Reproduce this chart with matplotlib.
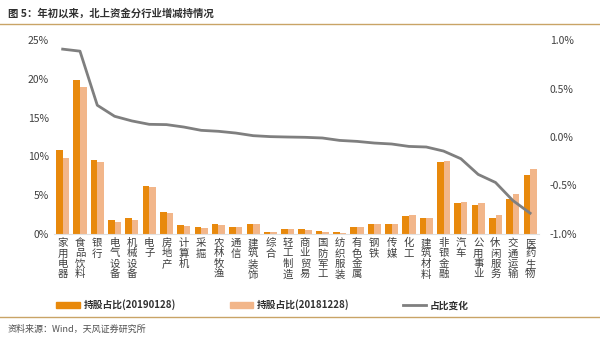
import matplotlib
matplotlib.use("Agg")
import matplotlib.pyplot as plt
import numpy as np
from matplotlib.patches import Patch
from matplotlib.lines import Line2D
from matplotlib.ticker import FuncFormatter

plt.rcParams['font.family'] = ['Noto Sans CJK SC', 'DejaVu Sans']

industries = ['家用电器', '食品饮料', '银行', '电气设备', '机械设备', '电子', '房地产',
              '计算机', '采掘', '农林牧渔', '通信', '建筑装饰', '综合', '轻工制造',
              '商业贸易', '国防军工', '纺织服装', '有色金属', '钢铁', '传媒', '化工',
              '建筑材料', '非银金融', '汽车', '公用事业', '休闲服务', '交通运输', '医药生物']
share_0128 = [10.8, 19.9, 9.6, 1.8, 2.0, 6.15, 2.8, 1.2, 0.85, 1.25, 0.9, 1.3, 0.3, 0.6,
              0.6, 0.35, 0.2, 0.85, 1.3, 1.3, 2.35, 2.05, 9.3, 3.95, 3.7, 2.0, 4.5, 7.6]
share_1228 = [9.85, 19.0, 9.3, 1.55, 1.8, 6.0, 2.65, 1.05, 0.78, 1.2, 0.85, 1.3, 0.25, 0.58,
              0.55, 0.3, 0.18, 0.85, 1.3, 1.3, 2.4, 2.1, 9.4, 4.15, 4.05, 2.5, 5.2, 8.4]
change = [0.907, 0.886, 0.328, 0.214, 0.166, 0.131, 0.128, 0.103, 0.069, 0.059, 0.041,
          0.014, 0.004, 0.0, -0.003, -0.01, -0.035, -0.045, -0.062, -0.072, -0.097,
          -0.103, -0.145, -0.224, -0.386, -0.469, -0.655, -0.786]

dark = '#E8890C'
light = '#F2B68A'
gray = '#7F7F7F'
txt = '#404040'

fig = plt.figure(figsize=(6, 3.4), dpi=100)
ax = fig.add_axes([0.09, 0.312, 0.808, 0.57])
x = np.arange(len(industries))
w = 0.38
ax.bar(x - w / 2, share_0128, w, color=dark)
ax.bar(x + w / 2, share_1228, w, color=light)
ax.set_xlim(-0.5, len(industries) - 0.5)
ax.set_ylim(0, 25)
ax.set_yticks(np.arange(0, 26, 5))
ax.yaxis.set_major_formatter(FuncFormatter(lambda v, p: f'{v:.0f}%'))
ax.set_xticks(x)
ax.set_xticklabels(['\n'.join(s) for s in industries], fontsize=7, color=txt,
                   linespacing=1.05, va='top', fontweight='medium')
ax.tick_params(axis='both', length=0, colors=txt, labelsize=7.5)
ax.tick_params(axis='x', pad=3)
for s in ['top', 'right', 'left']:
    ax.spines[s].set_visible(False)
ax.spines['bottom'].set_color('#E0E0E0')

ax2 = ax.twinx()
ax2.plot(x, change, color=gray, lw=2)
ax2.set_ylim(-1.0, 1.0)
ax2.set_yticks([-1.0, -0.5, 0.0, 0.5, 1.0])
ax2.yaxis.set_major_formatter(FuncFormatter(lambda v, p: f'{v:.1f}%'))
ax2.tick_params(axis='y', length=0, colors=txt, labelsize=7.5, pad=8)
for s in ax2.spines.values():
    s.set_visible(False)

handles = [Patch(color=dark), Patch(color=light), Line2D([0], [0], color=gray, lw=2)]
labels = ['持股占比(20190128)', '持股占比(20181228)', '占比变化']
fig.legend(handles, labels, loc='center', bbox_to_anchor=(0.438, 0.103), ncol=3,
           frameon=False, prop={'size': 7, 'weight': 'bold'}, handlelength=2.4,
           handleheight=0.6, handletextpad=0.4, columnspacing=5.5,
           labelcolor='#303030')

fig.text(0.013, 0.962, '图 5：年初以来，北上资金分行业增减持情况', fontsize=7.5,
         color='#303030', va='center', ha='left', fontweight='bold')
fig.add_artist(Line2D([0.0, 1.0], [0.928, 0.928], color='#C9A466', lw=1))
fig.add_artist(Line2D([0.0, 1.0], [0.068, 0.068], color='#C9A466', lw=1))
fig.text(0.013, 0.032, '资料来源：Wind，天风证券研究所', fontsize=6.5,
         color='#505050', va='center', ha='left')

fig.savefig('out.png', dpi=100)
